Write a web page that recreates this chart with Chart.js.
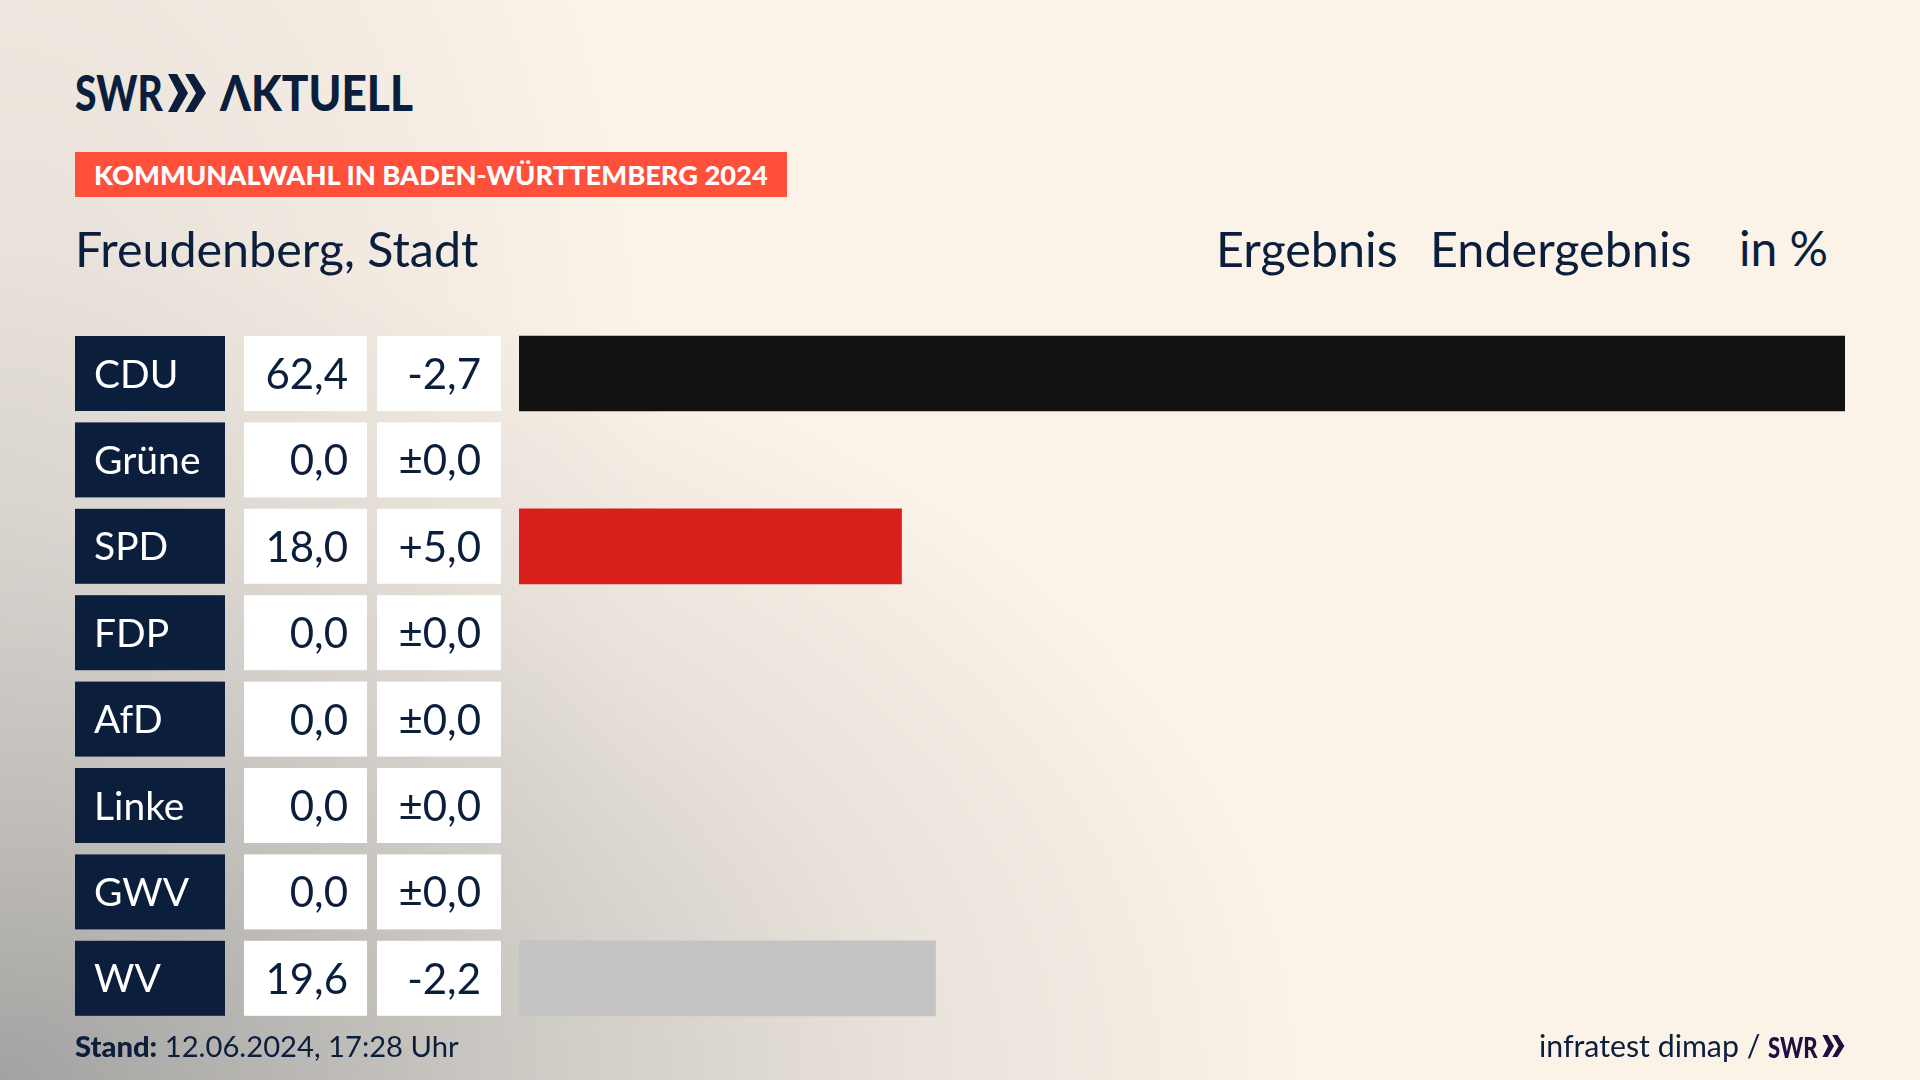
<!DOCTYPE html>
<html lang="de">
<head>
<meta charset="utf-8">
<title>Kommunalwahl Freudenberg</title>
<script src="https://cdn.jsdelivr.net/npm/chart.js@4"></script>
<style>
  html, body { margin: 0; padding: 0; }
  body {
    width: 1920px; height: 1080px; overflow: hidden; position: relative;
    font-family: Lato, sans-serif; color: #0b1f3d;
    background-color: #fbf2e8;
    background-image:
      radial-gradient(ellipse 1300px 830px at 0 100%, rgba(150,150,150,.85) 0%, rgba(170,170,168,.62) 35%, rgba(200,198,195,.36) 70%, rgba(251,242,232,0) 100%),
      radial-gradient(ellipse 650px 1050px at 0 45%, rgba(190,188,185,.38) 0%, rgba(251,242,232,0) 100%);
  }
  canvas { position: absolute; left: 0; top: 0; }
  .txt { position: absolute; white-space: nowrap; line-height: 1; transform-origin: left top; }
  .logo { font-weight: 900; }
  #banner { position: absolute; left: 75px; top: 152px; width: 712px; height: 45px; background: #ff503c; }
  svg { position: absolute; }
</style>
</head>
<body>
<div class="txt logo" style="left:75px;top:67px;font-size:50px;transform:scaleX(.78);">SWR</div>
<svg style="left:167px;top:74px" width="42" height="38" viewBox="0 0 40 38" fill="#0b1f3d">
  <polygon points="0,0 9,0 20,19 9,38 0,38 10,19"/>
  <polygon points="17,0 26,0 38,19 26,38 17,38 28,19"/>
</svg>
<div class="txt logo" style="left:220px;top:67px;font-size:50px;transform:scaleX(.885);">ΛKTUELL</div>
<div id="banner"></div>
<div class="txt" style="left:94px;top:161px;font-size:27.4px;font-weight:900;color:#fff;transform:scaleX(.995);">KOMMUNALWAHL IN BADEN-WÜRTTEMBERG 2024</div>
<div class="txt" style="left:75px;top:224px;font-size:48.4px;">Freudenberg, Stadt</div>
<div class="txt" style="left:1216px;top:224px;font-size:48.5px;">Ergebnis</div>
<div class="txt" style="left:1430px;top:224px;font-size:48.5px;">Endergebnis</div>
<div class="txt" style="left:1739px;top:224px;font-size:48px;">in %</div>
<canvas id="grafico" width="1920" height="1080"></canvas>
<div class="txt" style="left:75px;top:1031px;font-size:29.2px;"><b style="font-weight:900">Stand:</b> 12.06.2024, 17:28 Uhr</div>
<div class="txt" style="left:1539px;top:1030px;font-size:30.3px;">infratest dimap /</div>
<div class="txt logo" style="left:1768px;top:1032px;font-size:29px;color:#1f0f40;transform:scaleX(.76);">SWR</div>
<svg style="left:1822px;top:1035px" width="24" height="22" viewBox="0 0 40 38" fill="#1f0f40">
  <polygon points="0,0 9,0 20,19 9,38 0,38 10,19"/>
  <polygon points="17,0 26,0 38,19 26,38 17,38 28,19"/>
</svg>

<script>
const parteien = ["CDU", "Grüne", "SPD", "FDP", "AfD", "Linke", "GWV", "WV"];
const ergebnisse = [62.4, 0, 18.0, 0, 0, 0, 0, 19.6];
const differenzen = [-2.7, 0, 5.0, 0, 0, 0, 0, -2.2];
const farben = ["#121212", "#4f9e3a", "#d91f1c", "#ffd500", "#1a9fdb", "#c2185b", "#999999", "#c4c4c4"];

const NAVY = "#0b1f3d";

function zahl(wert) {
  return wert.toFixed(1).replace(".", ",");
}

function differenz(wert) {
  if (wert === 0) return "±0,0";
  return (wert > 0 ? "+" : "-") + zahl(Math.abs(wert));
}

// die Kaesten links neben den Balken
const zellen = {
  id: "zellen",
  afterDatasetsDraw(chart) {
    const { ctx, scales } = chart;
    const hoehe = 75;
    ctx.save();
    ctx.textBaseline = "alphabetic";
    parteien.forEach((partei, i) => {
      const y = scales.y.getPixelForValue(i);
      const oben = y - hoehe / 2;

      ctx.fillStyle = NAVY;
      ctx.fillRect(75, oben, 150, hoehe);
      ctx.fillStyle = "#ffffff";
      ctx.fillRect(244, oben, 123, hoehe);
      ctx.fillRect(377, oben, 124, hoehe);

      ctx.font = "39px Lato";
      ctx.textAlign = "left";
      ctx.fillText(partei, 94, y + 14);

      ctx.fillStyle = NAVY;
      ctx.font = "42px Lato";
      ctx.textAlign = "right";
      ctx.fillText(zahl(ergebnisse[i]), 348, y + 15.5);
      ctx.fillText(differenz(differenzen[i]), 481, y + 15.5);
    });
    ctx.restore();
  }
};

new Chart(document.getElementById("grafico").getContext("2d"), {
  type: "bar",
  data: {
    labels: parteien,
    datasets: [{
      data: ergebnisse,
      // Balken mit 0 % sollen nicht als feine Linie sichtbar sein
      backgroundColor: (c) => (c.raw > 0 ? farben[c.dataIndex] : "transparent"),
      borderWidth: 0,
      barThickness: 75
    }]
  },
  options: {
    indexAxis: "y",
    responsive: false,
    animation: false,
    layout: { padding: { left: 519, right: 75, top: 330.3, bottom: 58.5 } },
    plugins: { legend: { display: false }, tooltip: { enabled: false } },
    scales: {
      x: { display: false, min: 0, max: 62.4 },
      y: { display: false }
    }
  },
  plugins: [zellen]
});
</script>
</body>
</html>
